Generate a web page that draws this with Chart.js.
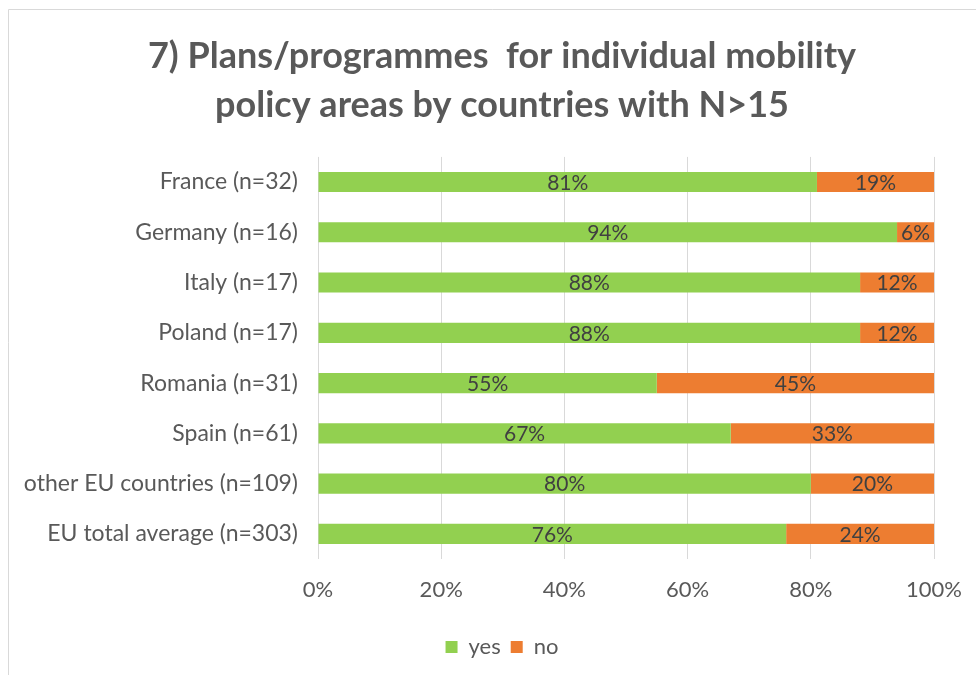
<!DOCTYPE html>
<html>
<head>
<meta charset="utf-8">
<script src="https://cdn.jsdelivr.net/npm/chart.js@4"></script>
<style>
  html, body { margin: 0; padding: 0; background: #fff; }
  #wrap { position: relative; width: 976px; height: 675px; }
</style>
</head>
<body>
<div id="wrap"><canvas id="chart" width="976" height="675"></canvas></div>
<script>
const countries = [
  'France (n=32)', 'Germany (n=16)', 'Italy (n=17)', 'Poland (n=17)',
  'Romania (n=31)', 'Spain (n=61)', 'other EU countries (n=109)', 'EU total average (n=303)'
];
const yesShare = [81, 94, 88, 88, 55, 67, 80, 76];
const noShare  = [19, 6, 12, 12, 45, 33, 20, 24];
const axisTicks = [0, 20, 40, 60, 80, 100];

const FONT = 'Lato, "Open Sans", sans-serif';
const GREY = '#595959';

// thin frame around the chart area (top and left edges only are visible)
const frame = {
  id: 'frame',
  beforeDraw(chart) {
    const c = chart.ctx;
    c.save();
    c.strokeStyle = '#d9d9d9';
    c.lineWidth = 1;
    c.beginPath();
    c.moveTo(8.5, chart.height);
    c.lineTo(8.5, 9.5);
    c.lineTo(chart.width, 9.5);
    c.stroke();
    c.restore();
  }
};

// centre title and legend on the whole canvas instead of the padded box
const recentre = {
  id: 'recentre',
  afterLayout(chart) {
    for (const box of [chart.titleBlock, chart.legend]) {
      box.left += 35;
      box.right += 35;
    }
  }
};

// percentage printed in the middle of each bar segment
const segmentLabels = {
  id: 'segmentLabels',
  afterDatasetsDraw(chart) {
    const c = chart.ctx;
    c.save();
    c.font = '21px ' + FONT;
    c.fillStyle = '#404040';
    c.textAlign = 'center';
    c.textBaseline = 'middle';
    chart.data.datasets.forEach((ds, i) => {
      chart.getDatasetMeta(i).data.forEach((bar, j) => {
        const v = ds.data[j];
        c.fillText(v + '%', (bar.x + bar.base) / 2, bar.y + 1);
      });
    });
    c.restore();
  }
};

new Chart(document.getElementById('chart'), {
  type: 'bar',
  data: {
    labels: countries,
    datasets: [
      { label: 'yes', data: yesShare, backgroundColor: '#92d050', barPercentage: 0.8, categoryPercentage: 0.5 },
      { label: 'no',  data: noShare,  backgroundColor: '#ed7d31', barPercentage: 0.8, categoryPercentage: 0.5 }
    ]
  },
  options: {
    indexAxis: 'y',
    responsive: false,
    animation: false,
    layout: { padding: { left: 0, right: 42, top: 0, bottom: 7 } },
    plugins: {
      title: {
        display: true,
        text: ['7) Plans/programmes  for individual mobility', 'policy areas by countries with N>15'],
        color: GREY,
        font: { family: FONT, size: 36, weight: 'bold', lineHeight: 1.36 },
        padding: { top: 32, bottom: 27 }
      },
      legend: {
        position: 'bottom',
        labels: {
          color: GREY,
          font: { family: FONT, size: 22 },
          boxWidth: 12, boxHeight: 12, padding: 10
        }
      },
      tooltip: { enabled: false }
    },
    scales: {
      x: {
        stacked: true,
        min: 0, max: 100,
        afterBuildTicks: s => { s.ticks = axisTicks.map(v => ({ value: v })); },
        afterFit: s => { s.height = 67; s.paddingLeft = 0; s.paddingRight = 0; },
        grid: { color: '#d9d9d9', drawTicks: false },
        border: { display: false },
        ticks: {
          color: GREY,
          font: { family: FONT, size: 22 },
          padding: 18,
          callback: v => v + '%'
        }
      },
      y: {
        stacked: true,
        afterFit: s => { s.width = 318; },
        grid: { display: false },
        border: { display: false },
        ticks: {
          color: GREY,
          font: { family: FONT, size: 23 },
          padding: 12
        }
      }
    }
  },
  plugins: [frame, recentre, segmentLabels]
});
</script>
</body>
</html>
